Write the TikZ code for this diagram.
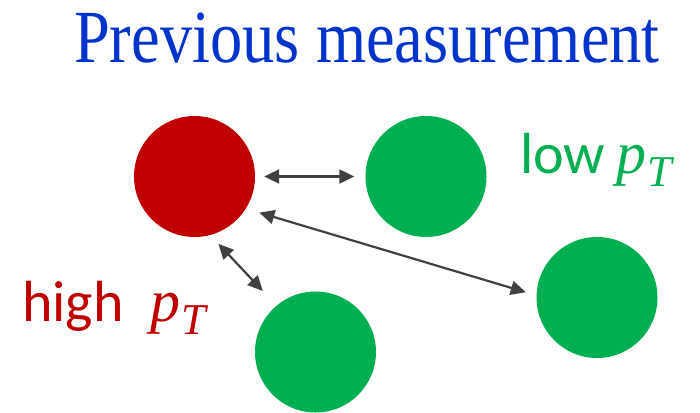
\documentclass[tikz,border=0pt]{standalone}
\usepackage{fontspec}
\setmainfont{Liberation Serif}
\newfontfamily\calfont{Carlito}
\newfontfamily\symfont{Liberation Serif}
\usepackage{tikz}
\usetikzlibrary{arrows.meta,positioning,calc}
\definecolor{measBlue}{HTML}{0033CC}
\definecolor{measRed}{HTML}{C00000}
\definecolor{measGreen}{HTML}{00B050}
\definecolor{measGrey}{HTML}{404040}
\newcommand{\momT}{{\symfont\itshape\fontsize{60}{64}\selectfont p\kern1pt\raisebox{-13pt}{\fontsize{44}{46}\selectfont T}}}

\begin{document}
\begin{tikzpicture}[x=1pt,y=-1pt,
    ball/.style={circle,inner sep=0pt,minimum size=121pt},
    hot/.style={ball,fill=measRed},
    soft/.style={ball,fill=measGreen},
    lbl/.style={anchor=base west,inner sep=0pt,font=\calfont\fontsize{58}{64}\selectfont},
    link/.style={{Triangle[length=15pt,width=14pt]}-{Triangle[length=15pt,width=14pt]},
                 measGrey,line width=2.2pt}]

  \useasboundingbox (0,0) rectangle (700,412);

  \node[anchor=base,inner sep=0pt,text=measBlue,font=\fontsize{75}{80}\selectfont]
    (title) at (367,62) {\scalebox{0.86}[1]{Previous measurement}};

  \node[hot]  (red)   at (194.5,176.5) {};
  \node[soft] (near)  at (426,176.5) {};
  \node[soft] (far)   at (597,297.5) {};
  \node[soft] (below) at (315.5,352) {};

  \node[lbl,text=measGreen] (lowpt)  at (520,173) {low\hspace{11pt}\momT};
  \node[lbl,text=measRed]   (highpt) at (22,321)  {high\hspace{27pt}\momT};

  \draw[link,shorten <=9pt,shorten >=11pt] (red.0) -- (near.180);
  \draw[link,shorten <=12pt,shorten >=20pt] (red.-75) -- (below.130);
  \draw[link,shorten <=14pt,shorten >=11pt] (red.-32) -- (far.178);
\end{tikzpicture}
\end{document}
